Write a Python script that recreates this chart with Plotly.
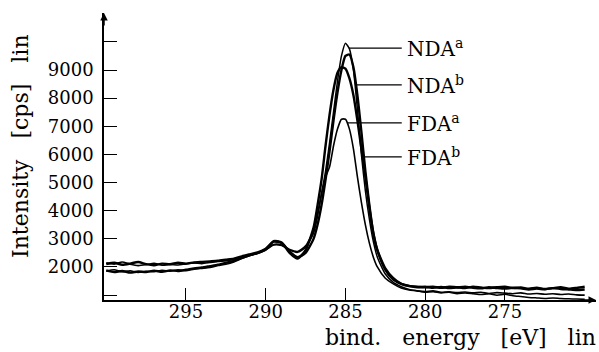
import numpy as np
import plotly.graph_objects as go

# ---------------- data ----------------
energy = [300, 299.5, 299, 298.5, 298, 297.5, 297, 296.5, 296, 295.5, 295, 294.5, 294, 293.5, 293, 292.5, 292,
          291.5, 291, 290.5, 290, 289.5, 289, 288.5, 288, 287.5, 287, 286.75, 286.5, 286.25, 286, 285.75, 285.5,
          285.25, 285, 284.75, 284.5, 284.25, 284, 283.75, 283.5, 283.25, 283, 282.5, 282, 281.5, 281,
          280.5, 280, 279.5, 279, 278.5, 278, 277.5, 277, 276.5, 276, 275.5, 275, 274.5, 274, 273.5, 273,
          272.5, 272, 271.5, 271, 270.5, 270]

nda_a = [1850, 1900, 1830, 1870, 1800, 1850, 1830, 1880, 1850, 1900, 1870, 1920, 1950, 1980, 2050, 2100, 2180,
         2300, 2400, 2480, 2600, 2780, 2760, 2600, 2520, 2700, 3200, 3800, 4600, 5400, 6400, 7500, 8600,
         9500, 9950, 9750, 9000, 7600, 6000, 4700, 3700, 2900, 2350, 1750, 1450, 1300, 1200,
         1150, 1100, 1120, 1080, 1100, 1050, 1080, 1050, 1020, 1050, 1000, 1030, 980, 950, 920, 900,
         880, 900, 880, 870, 860, 850]

nda_b = [2100, 2150, 2080, 2120, 2180, 2100, 2060, 2120, 2100, 2150, 2120, 2160, 2180, 2200, 2220, 2260, 2300,
         2380, 2450, 2520, 2650, 2900, 2850, 2550, 2350, 2500, 3000, 3500, 4200, 5100, 6100, 7200, 8200,
         9000, 9500, 9550, 9100, 8100, 6800, 5400, 4200, 3200, 2600, 1900, 1550, 1400, 1330,
         1300, 1280, 1300, 1260, 1300, 1280, 1250, 1300, 1270, 1250, 1280, 1300, 1250, 1270, 1230, 1260,
         1220, 1250, 1280, 1230, 1260, 1300]

fda_a = [2150, 2100, 2180, 2100, 2050, 2080, 2130, 2060, 2090, 2070, 2110, 2140, 2120, 2160, 2200, 2220, 2280,
         2350, 2420, 2500, 2620, 2800, 2780, 2620, 2550, 2750, 3300, 3900, 4600, 5200, 5550, 6300, 6900,
         7250, 7250, 6900, 6200, 5200, 4300, 3500, 2850, 2350, 2000, 1600, 1400, 1250, 1180,
         1150, 1130, 1150, 1100, 1120, 1090, 1110, 1080, 1100, 1060, 1090, 1070, 1050, 1080, 1040, 1060,
         1030, 1050, 1020, 1040, 1010, 1000]

fda_b = [1880, 1820, 1860, 1800, 1840, 1820, 1870, 1830, 1880, 1860, 1900, 1950, 1980, 2030, 2080, 2150, 2220,
         2320, 2420, 2500, 2620, 2920, 2870, 2500, 2300, 2600, 3400, 4200, 5100, 6300, 7400, 8300, 8900,
         9100, 9050, 8700, 8100, 7200, 6200, 5200, 4100, 3200, 2600, 1950, 1600, 1400, 1320,
         1280, 1300, 1260, 1290, 1250, 1270, 1300, 1260, 1240, 1280, 1250, 1230, 1260, 1240, 1200, 1230,
         1210, 1250, 1220, 1200, 1180, 1200]

series_names = ["NDA<sup>a</sup>", "NDA<sup>b</sup>", "FDA<sup>a</sup>", "FDA<sup>b</sup>"]
series_values = [nda_a, nda_b, fda_a, fda_b]
series_widths = [1.5, 2.4, 1.6, 2.4]
label_levels = [9780, 8470, 7120, 5910]

x_ticks = [295, 290, 285, 280, 275]
y_ticks = [1000, 2000, 3000, 4000, 5000, 6000, 7000, 8000, 9000, 10000]
y_ticktext = ["", "2000", "3000", "4000", "5000", "6000", "7000", "8000", "9000", ""]

# ---------------- figure ----------------
FONT = "DejaVu Serif"
x_range = [300.14, 269.29]
y_range = [827, 11026]
label_E = 281.25

fig = go.Figure()
for name, vals, w in zip(series_names, series_values, series_widths):
    fig.add_trace(go.Scatter(x=energy, y=vals, mode="lines", name=name,
                             line=dict(color="black", width=w, shape="spline", smoothing=0.6),
                             showlegend=False, hoverinfo="skip"))

E = np.array(energy)
for name, vals, lev in zip(series_names, series_values, label_levels):
    v = np.array(vals)
    ip = int(np.argmax(v))
    fe = E[ip:][::-1]
    fv = v[ip:][::-1]
    e_start = float(np.interp(lev, fv, fe))
    fig.add_shape(type="line", x0=e_start, x1=label_E + 0.22, y0=lev, y1=lev,
                  xref="x", yref="y", line=dict(color="black", width=1.2))
    fig.add_annotation(x=label_E, y=lev, xref="x", yref="y", text=name, showarrow=False,
                       xanchor="left", yanchor="middle", font=dict(family=FONT, size=20, color="black"))

# axis arrows
fig.add_annotation(x=0, y=1, xref="paper", yref="paper", ax=0, ay=14, axref="pixel", ayref="pixel",
                   showarrow=True, arrowhead=2, arrowsize=1, arrowwidth=1.5, arrowcolor="black", text="")
fig.add_annotation(x=1, y=0, xref="paper", yref="paper", ax=-14, ay=0, axref="pixel", ayref="pixel",
                   showarrow=True, arrowhead=2, arrowsize=1, arrowwidth=1.5, arrowcolor="black", text="")

# axis titles
fig.add_annotation(x=(598 - 104) / 492, y=-(352 - 300) / 287, xref="paper", yref="paper",
                   text="bind.\u00a0\u00a0 energy\u00a0\u00a0 [eV]\u00a0\u00a0 lin", showarrow=False,
                   xanchor="right", yanchor="bottom", font=dict(family=FONT, size=22, color="black"))
fig.add_annotation(x=(20 - 104) / 492, y=(300 - 146) / 287, xref="paper", yref="paper",
                   text="Intensity\u00a0\u00a0 [cps]\u00a0\u00a0 lin", showarrow=False, textangle=-90,
                   xanchor="center", yanchor="middle", font=dict(family=FONT, size=22, color="black"))

fig.update_layout(
    width=599, height=352,
    margin=dict(l=104, r=3, t=13, b=52),
    paper_bgcolor="white", plot_bgcolor="white",
    font=dict(family=FONT, size=18, color="black"),
    xaxis=dict(range=x_range, tickvals=x_ticks, ticktext=[str(t) for t in x_ticks],
               ticks="inside", ticklen=12, tickwidth=1.3, tickcolor="black",
               showline=True, linecolor="black", linewidth=1.6, showgrid=False, zeroline=False,
               tickfont=dict(family=FONT, size=18), ticklabelstandoff=-5),
    yaxis=dict(range=y_range, tickvals=y_ticks, ticktext=y_ticktext,
               ticks="inside", ticklen=13, tickwidth=1.3, tickcolor="black",
               showline=True, linecolor="black", linewidth=1.6, showgrid=False, zeroline=False,
               tickfont=dict(family=FONT, size=18), ticklabelstandoff=5),
)

fig.write_html("out.html")
